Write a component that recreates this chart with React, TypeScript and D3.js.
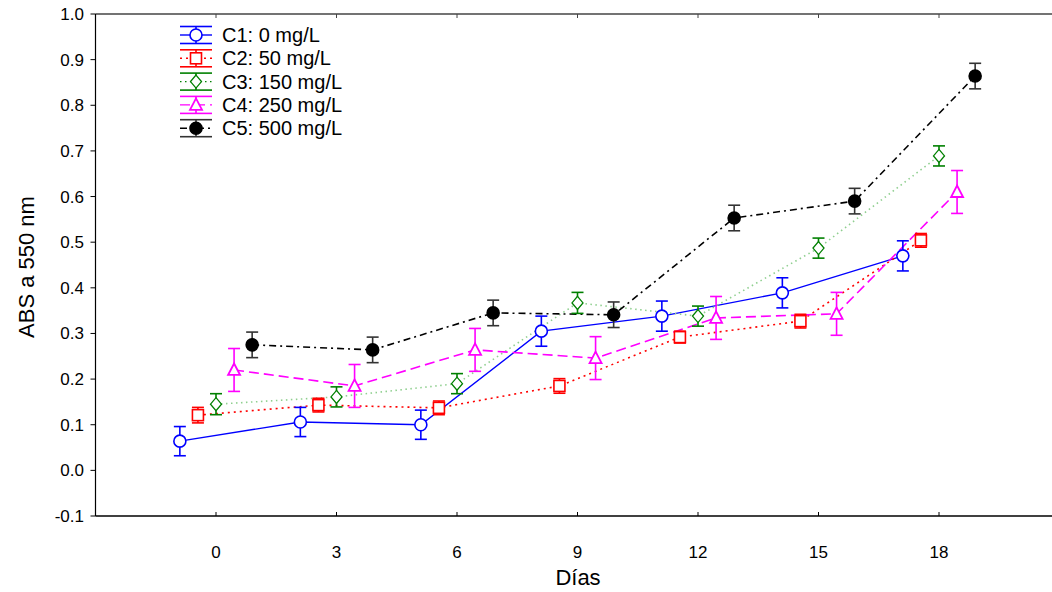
import React, { useEffect, useRef } from "react";
import * as d3 from "d3";

// days sampled
const days = [0, 3, 6, 9, 12, 15, 18];

// mean absorbance per series
const c1 = [0.064, 0.106, 0.1, 0.305, 0.338, 0.389, 0.47];
const c2 = [0.121, 0.143, 0.137, 0.185, 0.292, 0.327, 0.504];
const c3 = [0.145, 0.161, 0.19, 0.367, 0.338, 0.487, 0.689];
const c4 = [0.22, 0.185, 0.264, 0.246, 0.334, 0.343, 0.61];
const c5 = [0.275, 0.264, 0.345, 0.341, 0.553, 0.59, 0.864];

// error half-widths
const e1 = [0.032, 0.032, 0.032, 0.033, 0.033, 0.033, 0.033];
const e2 = [0.017, 0.015, 0.015, 0.016, 0.013, 0.015, 0.015];
const e3 = [0.023, 0.022, 0.022, 0.023, 0.022, 0.022, 0.022];
const e4 = [0.047, 0.047, 0.047, 0.047, 0.047, 0.047, 0.047];
const e5 = [0.028, 0.028, 0.028, 0.028, 0.028, 0.028, 0.028];

const labels = ["C1: 0 mg/L", "C2: 50 mg/L", "C3: 150 mg/L", "C4: 250 mg/L", "C5: 500 mg/L"];
const xTicks = [0, 3, 6, 9, 12, 15, 18];
const yTicks = [-0.1, 0, 0.1, 0.2, 0.3, 0.4, 0.5, 0.6, 0.7, 0.8, 0.9, 1.0];

const series = [
  { name: labels[0], values: c1, errs: e1, color: "#0000ff", lineColor: "#0000ff", errColor: "#0000ff", dash: null, marker: "circle", fill: "#fff", offset: -0.9 },
  { name: labels[1], values: c2, errs: e2, color: "#ff0000", lineColor: "#ff0000", errColor: "#ff0000", dash: "2,4", marker: "square", fill: "#fff", offset: -0.45 },
  { name: labels[2], values: c3, errs: e3, color: "#008000", lineColor: "#8fcf8f", errColor: "#008000", dash: "1.5,3.5", marker: "diamond", fill: "#fff", offset: 0 },
  { name: labels[3], values: c4, errs: e4, color: "#ff00ff", lineColor: "#ff00ff", errColor: "#ff00ff", dash: "10,5", marker: "triangle", fill: "#fff", offset: 0.45 },
  { name: labels[4], values: c5, errs: e5, color: "#000000", lineColor: "#000000", errColor: "#333333", dash: "7,4,2,4", marker: "dot", fill: "#000", offset: 0.9 },
];

const width = 1052;
const height = 592;
const font = "Arial, 'Liberation Sans', sans-serif";

function drawMarker(g: any, kind: string, cx: number, cy: number, color: string, fill: string) {
  if (kind === "circle" || kind === "dot") {
    g.append("circle").attr("cx", cx).attr("cy", cy).attr("r", 6)
      .attr("fill", fill).attr("stroke", color).attr("stroke-width", 1.6);
  } else if (kind === "square") {
    g.append("rect").attr("x", cx - 5.5).attr("y", cy - 5.5).attr("width", 11).attr("height", 11)
      .attr("fill", fill).attr("stroke", color).attr("stroke-width", 1.6);
  } else if (kind === "diamond") {
    g.append("path").attr("d", `M${cx},${cy - 6.5}L${cx + 5.5},${cy}L${cx},${cy + 6.5}L${cx - 5.5},${cy}Z`)
      .attr("fill", fill).attr("stroke", color).attr("stroke-width", 1.3);
  } else if (kind === "triangle") {
    g.append("path").attr("d", `M${cx},${cy - 6.5}L${cx + 6},${cy + 5}L${cx - 6},${cy + 5}Z`)
      .attr("fill", fill).attr("stroke", color).attr("stroke-width", 1.8);
  }
}

export default function App() {
  const ref = useRef<SVGSVGElement>(null);

  useEffect(() => {
    const svg = d3.select(ref.current);
    svg.selectAll("*").remove();

    const x = d3.scaleLinear().domain([-3, 21]).range([95.5, 1059.5]);
    const y = d3.scaleLinear().domain([-0.1, 1.0]).range([516, 14]);

    // frame
    const frame = svg.append("g");
    frame.append("line").attr("x1", x(-3)).attr("x2", x(21)).attr("y1", y(1)).attr("y2", y(1))
      .attr("stroke", "#444").attr("stroke-width", 1.3);
    frame.append("line").attr("x1", x(-3)).attr("x2", x(21)).attr("y1", y(-0.1)).attr("y2", y(-0.1))
      .attr("stroke", "#000").attr("stroke-width", 1.5);
    frame.append("line").attr("x1", x(-3)).attr("x2", x(-3)).attr("y1", y(1)).attr("y2", y(-0.1))
      .attr("stroke", "#000").attr("stroke-width", 1.2);

    // x ticks (inward, top and bottom)
    xTicks.forEach((t) => {
      frame.append("line").attr("x1", x(t)).attr("x2", x(t)).attr("y1", y(-0.1)).attr("y2", y(-0.1) - 4)
        .attr("stroke", "#000");
      frame.append("line").attr("x1", x(t)).attr("x2", x(t)).attr("y1", y(1)).attr("y2", y(1) + 4)
        .attr("stroke", "#444");
      frame.append("text").attr("x", x(t)).attr("y", 558).attr("text-anchor", "middle")
        .attr("font-family", font).attr("font-size", 17).text(String(t));
    });

    // y ticks
    yTicks.forEach((t) => {
      frame.append("line").attr("x1", x(-3) - 5).attr("x2", x(-3)).attr("y1", y(t)).attr("y2", y(t))
        .attr("stroke", "#000");
      frame.append("text").attr("x", 84).attr("y", y(t) + 6).attr("text-anchor", "end")
        .attr("font-family", font).attr("font-size", 17).text(t.toFixed(1));
    });

    // axis titles
    svg.append("text").attr("x", 578).attr("y", 585).attr("text-anchor", "middle")
      .attr("font-family", font).attr("font-size", 22).text("Días");
    svg.append("text").attr("transform", `translate(34, 267) rotate(-90)`).attr("text-anchor", "middle")
      .attr("font-family", font).attr("font-size", 22).text("ABS a 550 nm");

    const plot = svg.append("g");

    // lines
    series.forEach((s) => {
      const line = d3.line<number>()
        .x((_, i) => x(days[i] + s.offset))
        .y((d) => y(d));
      plot.append("path").datum(s.values).attr("d", line)
        .attr("fill", "none").attr("stroke", s.lineColor).attr("stroke-width", s.dash ? 1.6 : 1.4)
        .attr("stroke-dasharray", s.dash);
    });

    // error bars + markers
    series.forEach((s) => {
      s.values.forEach((v, i) => {
        const cx = x(days[i] + s.offset);
        const lo = y(v - s.errs[i]);
        const hi = y(v + s.errs[i]);
        plot.append("line").attr("x1", cx).attr("x2", cx).attr("y1", lo).attr("y2", hi)
          .attr("stroke", s.errColor).attr("stroke-width", 1.6);
        [lo, hi].forEach((yy) => {
          plot.append("line").attr("x1", cx - 6).attr("x2", cx + 6).attr("y1", yy).attr("y2", yy)
            .attr("stroke", s.errColor).attr("stroke-width", 1.6);
        });
        drawMarker(plot, s.marker, cx, y(v), s.color, s.fill);
      });
    });

    // legend
    const legend = svg.append("g");
    series.forEach((s, i) => {
      const cy = 35 + i * 23.3;
      const lx0 = 180;
      const lx1 = 212;
      const mx = (lx0 + lx1) / 2;
      [cy - 8.5, cy + 8.5].forEach((yy) => {
        legend.append("line").attr("x1", lx0).attr("x2", lx1).attr("y1", yy).attr("y2", yy)
          .attr("stroke", s.errColor).attr("stroke-width", 1.6);
      });
      legend.append("line").attr("x1", mx).attr("x2", mx).attr("y1", cy - 8.5).attr("y2", cy + 8.5)
        .attr("stroke", s.errColor).attr("stroke-width", 1.6);
      legend.append("line").attr("x1", lx0).attr("x2", lx1).attr("y1", cy).attr("y2", cy)
        .attr("stroke", s.color).attr("stroke-width", 1.4).attr("stroke-dasharray", s.dash);
      drawMarker(legend, s.marker, mx, cy, s.color, s.fill);
      legend.append("text").attr("x", 222).attr("y", cy + 7).attr("font-family", font)
        .attr("font-size", 20).text(s.name);
    });
  }, []);

  return (
    <div style={{ position: "fixed", left: 0, top: 0, width, height, background: "#fff" }}>
      <svg ref={ref} width={width} height={height} style={{ display: "block" }} />
    </div>
  );
}
